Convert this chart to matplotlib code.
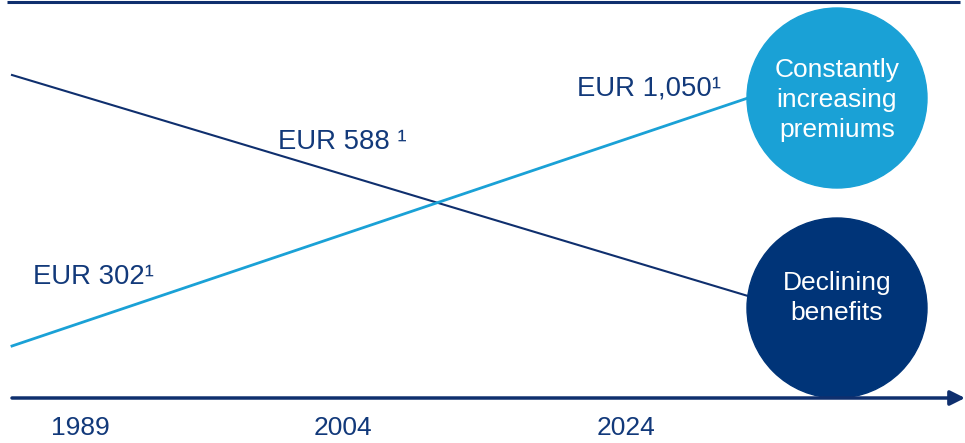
import matplotlib.pyplot as plt
from matplotlib.patches import Circle

plt.rcParams['font.family'] = ['Liberation Sans', 'DejaVu Sans']

navy = '#0f2f6e'
dark_blue = '#003478'
light_blue = '#1aa1d6'
text_navy = '#12397a'

# schematic trend lines (picture coordinates, x from left, y from top)
benefits_x = [12, 748]
benefits_y = [75, 296]
premiums_x = [12, 748]
premiums_y = [346, 98]

years = ['1989', '2004', '2024']
year_pos = [80, 343, 626]

premium_labels = ['EUR 302\u00b9', 'EUR 588 \u00b9', 'EUR 1,050\u00b9']
premium_label_pos = [(33, 277), (278, 142), (577, 88)]

bubbles = ['Constantly\nincreasing\npremiums', 'Declining\nbenefits']
bubble_centres = [(837, 98), (837, 308)]
bubble_text_y = [100, 298]
bubble_colors = [light_blue, dark_blue]

fig = plt.figure(figsize=(9.65, 4.43), dpi=100)
ax = fig.add_axes([0, 0, 1, 1])
ax.set_xlim(0, 965)
ax.set_ylim(443, 0)
ax.axis('off')

# top rule
ax.plot([7, 960], [1.5, 1.5], color=navy, lw=2.2, solid_capstyle='butt')

ax.plot(benefits_x, benefits_y, color=navy, lw=1.5)
ax.plot(premiums_x, premiums_y, color=light_blue, lw=2.0)

for (cx, cy), ty, label, col in zip(bubble_centres, bubble_text_y, bubbles, bubble_colors):
    ax.add_patch(Circle((cx, cy), 90, color=col, zorder=3))
    ax.text(cx, ty, label, color='white', fontsize=19, ha='center', va='center',
            linespacing=1.32, zorder=4)

for (x, y), label in zip(premium_label_pos, premium_labels):
    ax.text(x, y, label, color=text_navy, fontsize=19.8, ha='left', va='center')

# time axis arrow
ax.annotate('', xy=(965, 398), xytext=(12, 398),
            arrowprops=dict(arrowstyle='-|>', color=navy, lw=2.5,
                            mutation_scale=22, shrinkA=0, shrinkB=0))

for x, y in zip(year_pos, years):
    ax.text(x, 428, y, color=text_navy, fontsize=19, ha='center', va='center')

fig.savefig('out.png', dpi=100)
